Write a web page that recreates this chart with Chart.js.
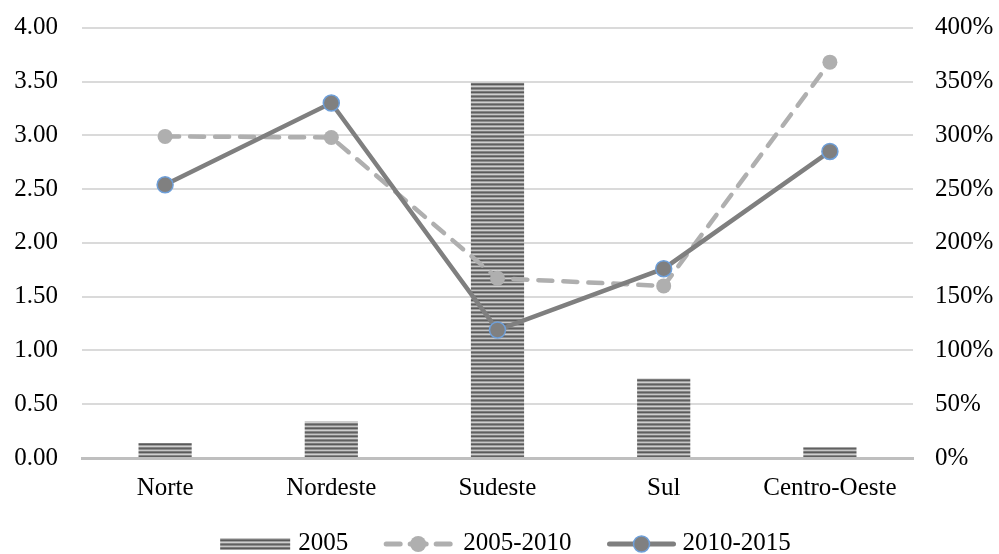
<!DOCTYPE html>
<html>
<head>
<meta charset="utf-8">
<script src="https://cdn.jsdelivr.net/npm/chart.js@4.4.1/dist/chart.umd.min.js"></script>
<style>
  html, body { margin: 0; padding: 0; background: #fff; }
  #wrap { width: 999px; height: 554px; position: relative; }
</style>
</head>
<body>
<div id="wrap"><canvas id="c" width="999" height="554"></canvas></div>
<script>
const categories = ['Norte', 'Nordeste', 'Sudeste', 'Sul', 'Centro-Oeste'];
const values2005 = [0.14, 0.34, 3.49, 0.74, 0.10];
const growth2005_2010 = [299, 298, 167, 160, 368];
const growth2010_2015 = [254, 330, 119, 176, 285];
const leftTicks = [0, 0.5, 1, 1.5, 2, 2.5, 3, 3.5, 4];
const rightTicks = [0, 50, 100, 150, 200, 250, 300, 350, 400];
const seriesNames = ['2005', '2005-2010', '2010-2015'];

const FONT = "'Liberation Serif', 'Times New Roman', serif";
const FS = 25;

function makeStripePattern() {
  const p = document.createElement('canvas');
  p.width = 4; p.height = 8;
  const g = p.getContext('2d');
  const rows = ['#606060', '#8e8e8e', '#c6c6c6', '#7c7c7c', '#5a5a5a', '#a0a0a0', '#cfcfcf', '#858585'];
  rows.forEach((c, i) => { g.fillStyle = c; g.fillRect(0, i, 4, 1); });
  return g.createPattern(p, 'repeat');
}
const ctx = document.getElementById('c').getContext('2d');
const stripes = makeStripePattern();

const legendPlugin = {
  id: 'customLegend',
  afterDraw(chart) {
    const c = chart.ctx;
    c.save();
    c.font = FS + 'px ' + FONT;
    const symW = 70, gapItem = 35;
    const gapText = [8, 10, 6];
    const widths = seriesNames.map((n, i) => symW + gapText[i] + c.measureText(n).width);
    const total = widths.reduce((a, b) => a + b, 0) + gapItem * (seriesNames.length - 1);
    let x = (chart.width - total) / 2 + 6;
    const y = 544;
    seriesNames.forEach((name, i) => {
      if (i === 0) {
        c.fillStyle = stripes;
        c.fillRect(x, y - 6, symW, 12);
      } else if (i === 1) {
        c.strokeStyle = '#afafaf'; c.lineWidth = 5; c.lineCap = 'round';
        c.beginPath(); c.moveTo(x + 3, y); c.lineTo(x + 17, y); c.stroke();
        c.beginPath(); c.moveTo(x + 27, y); c.lineTo(x + 43, y); c.stroke();
        c.beginPath(); c.moveTo(x + 53, y); c.lineTo(x + 67, y); c.stroke();
        c.fillStyle = '#afafaf';
        c.beginPath(); c.arc(x + symW / 2, y, 8, 0, Math.PI * 2); c.fill();
      } else {
        c.strokeStyle = '#7f7f7f'; c.lineWidth = 5; c.lineCap = 'round';
        c.beginPath(); c.moveTo(x + 3, y); c.lineTo(x + symW - 3, y); c.stroke();
        c.fillStyle = '#808080'; c.strokeStyle = '#6e9fd9'; c.lineWidth = 1.5;
        c.beginPath(); c.arc(x + symW / 2, y, 8, 0, Math.PI * 2); c.fill(); c.stroke();
      }
      c.fillStyle = '#000';
      c.textAlign = 'left'; c.textBaseline = 'middle';
      c.fillText(name, x + symW + gapText[i], y - 1);
      x += widths[i] + gapItem;
    });
    c.restore();
  }
};

new Chart(ctx, {
  type: 'bar',
  data: {
    labels: categories,
    datasets: [
      {
        type: 'line', label: seriesNames[2], data: growth2010_2015, yAxisID: 'y1',
        borderColor: '#7f7f7f', borderWidth: 4.5, backgroundColor: '#808080',
        pointRadius: 8, pointBackgroundColor: '#808080', pointBorderColor: '#6e9fd9',
        pointBorderWidth: 1.5, tension: 0, order: 1, fill: false
      },
      {
        type: 'line', label: seriesNames[1], data: growth2005_2010, yAxisID: 'y1',
        borderColor: '#afafaf', borderWidth: 4.5, borderDash: [14, 11], borderCapStyle: 'round',
        pointRadius: 7.5, pointBackgroundColor: '#afafaf', pointBorderColor: '#afafaf',
        pointBorderWidth: 0, tension: 0, order: 2, fill: false
      },
      {
        type: 'bar', label: seriesNames[0], data: values2005, yAxisID: 'y',
        backgroundColor: stripes, borderWidth: 0,
        categoryPercentage: 1, barPercentage: 0.32, order: 3
      }
    ]
  },
  options: {
    responsive: false,
    animation: false,
    devicePixelRatio: 1,
    layout: { padding: { left: 14, right: 6, top: 0, bottom: 36 } },
    plugins: { legend: { display: false }, tooltip: { enabled: false } },
    scales: {
      x: {
        grid: { display: false, drawTicks: false },
        border: { display: true, color: '#bfbfbf', width: 3 },
        ticks: { font: { family: FONT, size: FS }, color: '#000', padding: 15 }
      },
      y: {
        position: 'left', min: 0, max: 4,
        afterBuildTicks(axis) { axis.ticks = leftTicks.map(v => ({ value: v })); },
        afterFit(axis) { axis.width = 68; },
        grid: { color: '#dadada', lineWidth: 2, drawTicks: false },
        border: { display: false },
        ticks: { font: { family: FONT, size: FS, lineHeight: 0.3 }, color: '#000', padding: 24,
                 callback: v => Number(v).toFixed(2) }
      },
      y1: {
        position: 'right', min: 0, max: 400,
        afterBuildTicks(axis) { axis.ticks = rightTicks.map(v => ({ value: v })); },
        afterFit(axis) { axis.width = 80; },
        grid: { display: false, drawTicks: false },
        border: { display: false },
        ticks: { font: { family: FONT, size: FS, lineHeight: 0.3 }, color: '#000', padding: 22,
                 callback: v => v + '%' }
      }
    }
  },
  plugins: [legendPlugin]
});
</script>
</body>
</html>
